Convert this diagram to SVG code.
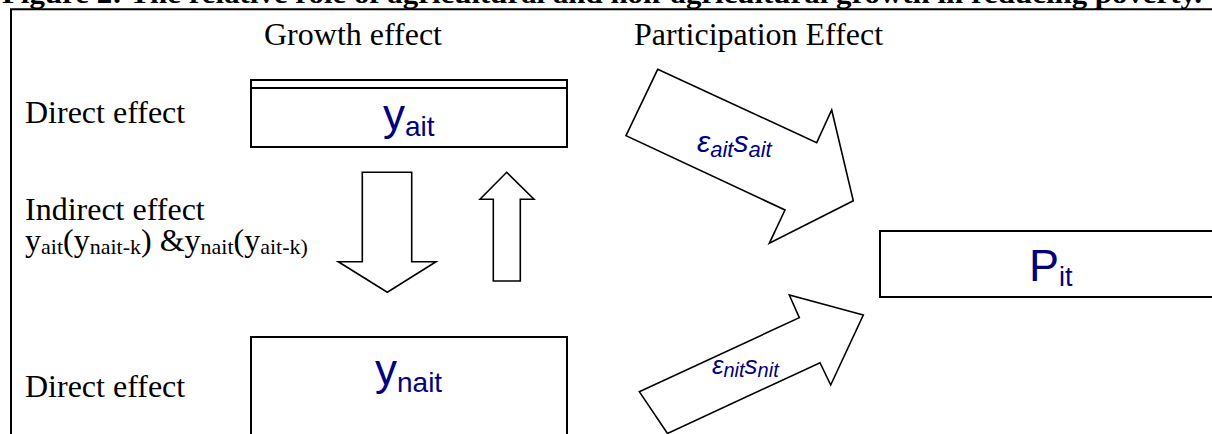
<svg xmlns="http://www.w3.org/2000/svg" width="1212" height="434" viewBox="0 0 1212 434">
  <style>
    .serif { font-family: "Liberation Serif", "Times New Roman", serif; fill: #000; }
    .lbl { font-size: 32px; }
    .box { fill: #fff; stroke: #000; stroke-width: 2; }
    .blk { fill: #fff; stroke: #000; stroke-width: 1.6; stroke-linejoin: miter; }
    .math { font-family: "Liberation Sans", Arial, sans-serif; fill: #000080; }
    .frame { fill: none; stroke: #000; stroke-width: 2; }
  </style>

  <rect width="1212" height="434" fill="#fff"/>

  <!-- heading, clipped by the top of the page -->
  <text id="title" class="serif" x="2" y="3" font-size="28" font-weight="bold" textLength="1200" lengthAdjust="spacingAndGlyphs">Figure 2: The relative role of agricultural and non-agricultural growth in reducing poverty.</text>

  <!-- outer frame -->
  <path id="frame" class="frame" d="M11,440 V9.3 H1220"/>

  <!-- column and row headings -->
  <g id="headings" class="serif lbl">
    <text x="264" y="45">Growth effect</text>
    <text x="634" y="45">Participation Effect</text>
    <text x="25" y="123">Direct effect</text>
    <text x="25" y="220">Indirect effect</text>
    <text x="25" y="397">Direct effect</text>
  </g>

  <!-- indirect effect expression -->
  <text id="indirect-expr" class="serif" x="25" y="251" font-size="32">y<tspan font-size="22" dy="3">ait</tspan><tspan dy="-3">(y</tspan><tspan font-size="22" dy="3">nait-k</tspan><tspan dy="-3">) &amp;y</tspan><tspan font-size="22" dy="3">nait</tspan><tspan dy="-3">(y</tspan><tspan font-size="22" dy="3">ait-k)</tspan></text>

  <!-- agricultural growth -->
  <g id="node-yait">
    <rect class="box" x="251" y="80" width="316" height="67"/>
    <line x1="251" y1="88" x2="567" y2="88" stroke="#000" stroke-width="2"/>
    <text class="math" x="383" y="130" font-size="44">y<tspan font-size="28" dy="6">ait</tspan></text>
  </g>

  <!-- non-agricultural growth -->
  <g id="node-ynait">
    <rect class="box" x="251" y="337" width="316" height="110"/>
    <text class="math" x="375" y="385" font-size="44">y<tspan font-size="28" dy="7">nait</tspan></text>
  </g>

  <!-- poverty outcome -->
  <g id="node-pit">
    <rect class="box" x="880" y="231" width="345" height="66"/>
    <text class="math" x="1029" y="281" font-size="45">P<tspan font-size="27" dy="5">it</tspan></text>
  </g>

  <!-- block arrows -->
  <g id="connectors">
    <polygon class="blk" points="362.3,172.3 411.7,172.3 411.7,261.7 436,261.7 387.3,292.3 338.3,261.7 362.3,261.7"/>
    <polygon class="blk" points="506.7,172.3 534,199.3 520.3,199.3 520.3,281 493.3,281 493.3,199.3 480,199.3"/>
    <polygon class="blk" points="657.7,69.3 816.7,142.7 831.7,110 853.3,200.7 769.3,243.3 785,210 626,135.7"/>
    <polygon class="blk" points="639.3,391.7 799.3,317.7 789.3,295 863.3,315 830.7,385 820,362.7 667.5,433.5"/>
    <text class="math" x="697" y="152" font-size="30" font-style="italic">ε<tspan font-size="22" dy="5">ait</tspan><tspan dy="-5">s</tspan><tspan font-size="22" dy="5">ait</tspan></text>
    <text class="math" x="712" y="374" font-size="26" font-style="italic">ε<tspan font-size="20" dy="3">nit</tspan><tspan dy="-3">s</tspan><tspan font-size="20" dy="3">nit</tspan></text>
  </g>
</svg>
